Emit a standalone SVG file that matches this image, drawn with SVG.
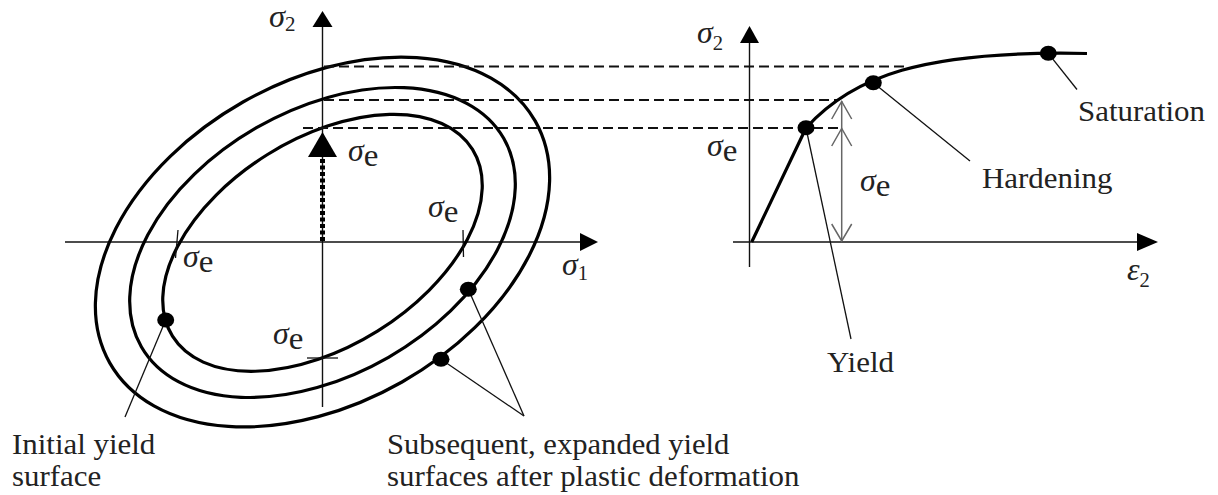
<svg xmlns="http://www.w3.org/2000/svg" width="1218" height="495" viewBox="0 0 1218 495">
<style>
.bg{fill:#fff}
.ax{stroke:#111;stroke-width:1.4;fill:none}
.head{fill:#000}
.surf{stroke:#000;stroke-width:3.2;fill:none}
.dash{stroke:#111;stroke-width:1.8;stroke-dasharray:10 5;fill:none}
.lead{stroke:#111;stroke-width:1.3;fill:none}
.tick{stroke:#111;stroke-width:1.3;fill:none}
.dot{fill:#000}
.dim{stroke:#666;stroke-width:1.5;fill:none}
.curve{stroke:#000;stroke-width:3.2;fill:none}
text{font-family:"Liberation Serif","Times New Roman",serif;font-size:30px;fill:#222}
.it{font-style:italic;font-size:31px}
.sub{font-size:20px}
.e{font-size:32px}
</style>
<rect class="bg" width="1218" height="495"/>

<g id="left-axes">
<line class="ax" x1="322.5" y1="26" x2="322.5" y2="407"/>
<polygon class="head" points="322.5,11 312.5,27 332.5,27"/>
<line class="ax" x1="65" y1="242" x2="582" y2="242"/>
<polygon class="head" points="598,242 580,233 580,251"/>
<text transform="translate(269,27) scale(1.05,1)" font-size="29"><tspan class="it" font-size="29">σ</tspan><tspan class="sub" dy="4">2</tspan></text>
<text transform="translate(562,275) scale(1.03,1)"><tspan class="it">σ</tspan><tspan class="sub" dy="5">1</tspan></text>
</g>

<g id="yield-surfaces">
<ellipse id="initial-surface" class="surf" cx="322.5" cy="242.8" rx="176.7" ry="104" transform="rotate(-31.9 322.5 242.8)"/>
<ellipse id="middle-surface" class="surf" cx="322.5" cy="242.5" rx="209" ry="132.4" transform="rotate(-29.9 322.5 242.5)"/>
<ellipse id="outer-surface" class="surf" cx="322.5" cy="242" rx="244.7" ry="161" transform="rotate(-29.6 322.5 242)"/>
</g>

<g id="ticks">
<line class="tick" x1="178" y1="230" x2="175.5" y2="258"/>
<line class="tick" x1="463" y1="230" x2="463.5" y2="257"/>
<line class="tick" x1="307" y1="358" x2="338" y2="358"/>
</g>

<g id="sigma-e-arrow">
<line x1="322.5" y1="241" x2="322.5" y2="156" stroke="#000" stroke-width="5" stroke-dasharray="4 2.5"/>
<polygon class="head" points="322.5,132 308,157 337,157"/>
</g>

<g id="left-labels">
<text transform="translate(348,161) scale(1.03,1)"><tspan class="it">σ</tspan><tspan class="e" dy="5">e</tspan></text>
<text transform="translate(428,217) scale(1.03,1)"><tspan class="it">σ</tspan><tspan class="e" dy="5">e</tspan></text>
<text transform="translate(183,267) scale(1.03,1)"><tspan class="it">σ</tspan><tspan class="e" dy="5">e</tspan></text>
<text transform="translate(273,344) scale(1.03,1)"><tspan class="it">σ</tspan><tspan class="e" dy="5">e</tspan></text>
</g>

<g id="connectors">
<line class="dash" x1="324" y1="66.5" x2="908" y2="66.5"/>
<line class="dash" x1="324" y1="100" x2="838" y2="100"/>
<line class="dash" x1="303" y1="128" x2="841" y2="128"/>
<line class="lead" x1="165.7" y1="320" x2="125" y2="417"/>
<line class="lead" x1="468.3" y1="289.3" x2="524" y2="416"/>
<line class="lead" x1="441" y1="359.3" x2="524" y2="416"/>
<line class="lead" x1="806" y1="128" x2="851" y2="339"/>
<line class="lead" x1="873.3" y1="82.7" x2="970" y2="161"/>
<line class="lead" x1="1048.3" y1="53.3" x2="1077" y2="89.5"/>
</g>

<g id="dots">
<ellipse class="dot" cx="165.7" cy="320" rx="8.5" ry="7.5"/>
<ellipse class="dot" cx="468.3" cy="289.3" rx="8.5" ry="7.5"/>
<ellipse class="dot" cx="441" cy="359.3" rx="8.5" ry="7.5"/>
</g>

<g id="right-axes">
<line class="ax" x1="749.5" y1="42" x2="749.5" y2="267"/>
<polygon class="head" points="749.5,26 740,43 759,43"/>
<line class="ax" x1="733" y1="242" x2="1140" y2="242"/>
<polygon class="head" points="1158,242 1137,233 1137,251"/>
<text transform="translate(697,43) scale(1.03,1)"><tspan class="it">σ</tspan><tspan class="sub" dy="7">2</tspan></text>
<text transform="translate(1127,280) scale(1.03,1)"><tspan class="it">ε</tspan><tspan class="sub" dy="7">2</tspan></text>
</g>

<g id="stress-strain-curve">
<path class="curve" d="M751.7,242 L806,128 C852,77 922,50 1087,53.5"/>
<ellipse class="dot" cx="806" cy="127.7" rx="8.5" ry="7.5"/>
<ellipse class="dot" cx="873.3" cy="82.7" rx="8.5" ry="7.5"/>
<ellipse class="dot" cx="1048.3" cy="53.3" rx="8.5" ry="7.5"/>
</g>

<g id="sigma-e-dimension">
<line class="dim" x1="841.7" y1="101" x2="841.7" y2="241"/>
<polyline class="dim" points="831.7,119 841.7,101.5 851.7,119"/>
<polyline class="dim" points="831.7,146 841.7,128.5 851.7,146"/>
<polyline class="dim" points="831.7,224 841.7,241 851.7,224"/>
</g>

<g id="right-labels">
<text transform="translate(707,156) scale(1.03,1)"><tspan class="it">σ</tspan><tspan class="e" dy="5">e</tspan></text>
<text transform="translate(860,191) scale(1.03,1)"><tspan class="it">σ</tspan><tspan class="e" dy="5">e</tspan></text>
<text transform="translate(827,372) scale(1.03,1)">Yield</text>
<text transform="translate(982,188) scale(1.03,1)">Hardening</text>
<text transform="translate(1078,121) scale(1.03,1)">Saturation</text>
</g>

<g id="bottom-labels">
<text transform="translate(12,454) scale(1.03,1)">Initial yield</text>
<text transform="translate(12,486) scale(1.03,1)">surface</text>
<text transform="translate(387,454) scale(1.02,1)">Subsequent, expanded yield</text>
<text transform="translate(387,486) scale(1.03,1)">surfaces after plastic deformation</text>
</g>
</svg>
